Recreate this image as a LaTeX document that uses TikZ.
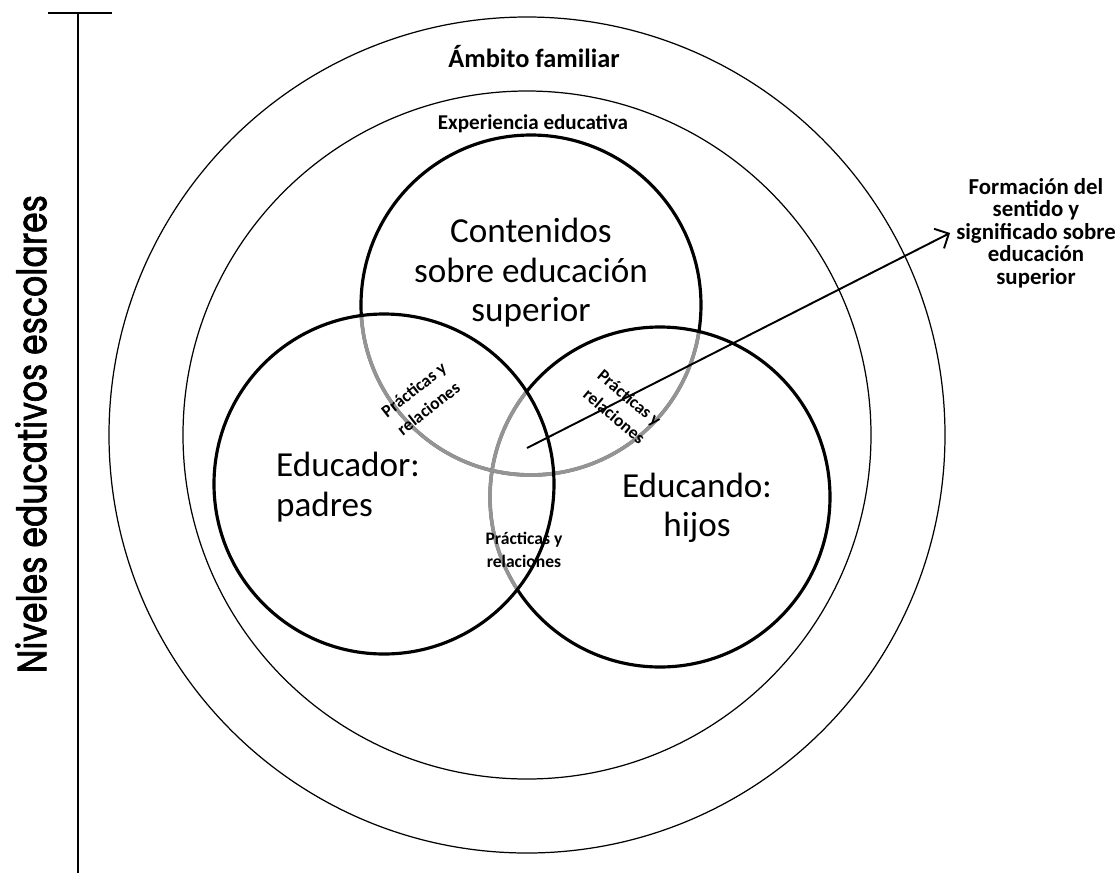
\documentclass[tikz,border=0pt]{standalone}
\usepackage{graphicx}
\usepackage{fontspec}
\setmainfont{Carlito}
\newfontfamily\nivelfont{Poppins}[FakeBold=2]
\usetikzlibrary{arrows.meta}

\tikzset{
    ring/.style={line width=0.7pt},
    venn/.style={line width=1.8pt},
    venngray/.style={line width=2.1pt, color=black!42},
    prac/.style={font=\bfseries\fontsize{10}{13.5}\selectfont, align=center, inner sep=0pt},
    big/.style={font=\fontsize{20}{22.5}\selectfont, align=center},
}

\begin{document}
\begin{tikzpicture}[x=0.02cm, y=-0.02cm]
    \useasboundingbox (0,0) rectangle (1120,873);
    % centres of the rings and of the three circles
    \coordinate (amb) at (527,435);
    \coordinate (cont) at (531,305);
    \coordinate (padr) at (384,484);
    \coordinate (hijo) at (660,497);
    \draw[ring] (amb) circle[radius=418];
    \draw[ring] (amb) circle[radius=344];
    % top circle goes gray inside the two lower ones
    \draw[venn] (cont) circle[radius=170];
    \foreach \ctr in {padr,hijo}{
        \begin{scope}
            \clip (\ctr) circle[radius=170];
            \draw[venngray] (cont) circle[radius=170];
        \end{scope}
    }
    \draw[venn] (hijo) circle[radius=170];
    \begin{scope}
        \clip (padr) circle[radius=170];
        \draw[venngray] (hijo) circle[radius=170];
    \end{scope}
    \draw[venn] (padr) circle[radius=170];

    \node[font=\bfseries\fontsize{15}{18}\selectfont] (ambito) at (534,57) {Ámbito familiar};
    \node[font=\bfseries\fontsize{12}{14}\selectfont] (experiencia) at (533,124) {Experiencia educativa};
    \node[big] (contenidos) at (531,273) {Contenidos\\sobre educación\\superior};
    \node[big, align=left, anchor=west] (educador) at (270,487) {Educador:\\padres};
    \node[big] (educando) at (697,508) {Educando:\\hijos};
    \node[prac, rotate=38] (pracA) at (421,399) {Prácticas y\\relaciones};
    \node[prac, rotate=-40] (pracB) at (622,407) {Prácticas y\\relaciones};
    \node[prac] (pracC) at (524,550) {Prácticas y\\relaciones};
    \node[font=\bfseries\fontsize{13}{12.8}\selectfont, align=center] (formacion) at (1036,233)
        {Formación del\\sentido y\\significado sobre\\educación\\superior};
    \coordinate (flecha) at (527,448);
    \draw[line width=1.1pt, -{Straight Barb[length=2.2mm, width=4.4mm]}] (flecha) -- (formacion.west);

    % scale of school levels
    \coordinate (ejeA) at (78,13);
    \coordinate (ejeB) at (78,873);
    \coordinate (ejeL) at (48,13);
    \coordinate (ejeR) at (112,13);
    \draw[line width=1.2pt] (ejeA) -- (ejeB);
    \draw[line width=1.2pt] (ejeL) -- (ejeR);
    \node[rotate=90] (niveles) at (31,434)
        {\resizebox{9.56cm}{0.62cm}{\nivelfont Niveles educativos escolares}};
\end{tikzpicture}
\end{document}
